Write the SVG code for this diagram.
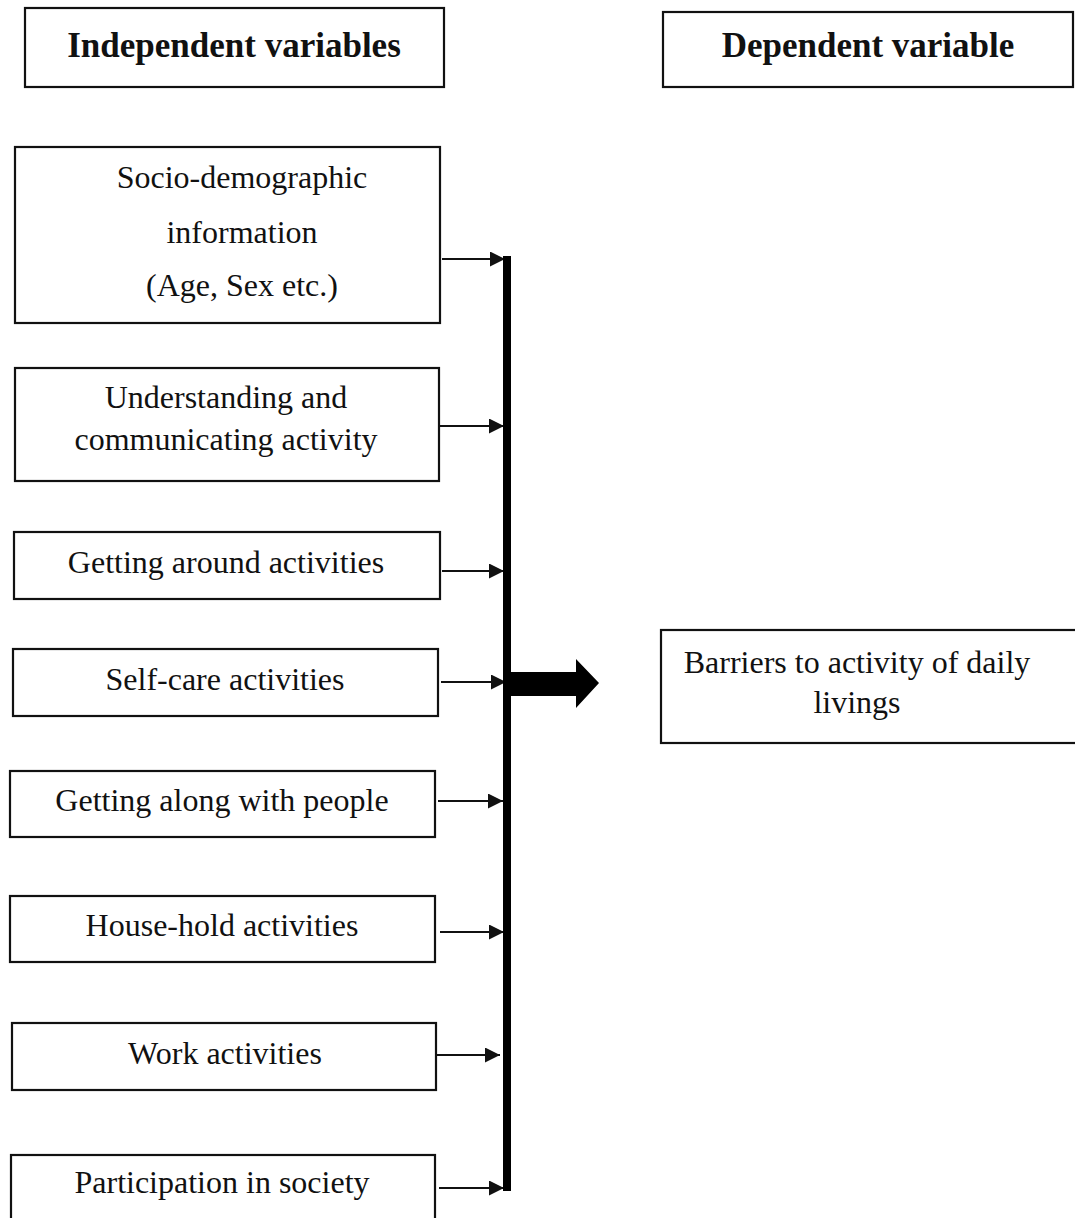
<svg xmlns="http://www.w3.org/2000/svg" width="1075" height="1218" viewBox="0 0 1075 1218">
<defs>
<style>
.box{fill:#fff;stroke:#111;stroke-width:2.2}
.t{font-family:"Liberation Serif","Times New Roman",serif;font-size:32px;fill:#111;text-anchor:middle}
.h{font-family:"Liberation Serif","Times New Roman",serif;font-size:35px;font-weight:bold;fill:#111;text-anchor:middle}
.c{stroke:#111;stroke-width:2.2;fill:none}
</style>
<marker id="ah" viewBox="0 0 15 15" refX="15" refY="7.5" markerWidth="15" markerHeight="15" markerUnits="userSpaceOnUse" orient="auto">
<path d="M0,0 L15,7.5 L0,15 Z" fill="#111"/>
</marker>
</defs>
<rect width="1075" height="1218" fill="#fff"/>
<g id="hdr-independent"><rect class="box" x="25" y="8" width="419" height="79"/><text class="h" x="234" y="57">Independent variables</text></g>
<g id="hdr-dependent"><rect class="box" x="663" y="12" width="410" height="75"/><text class="h" x="868" y="57">Dependent variable</text></g>
<g id="n-socio"><rect class="box" x="15" y="147" width="425" height="176"/>
<text class="t" x="242" y="188">Socio-demographic</text>
<text class="t" x="242" y="243">information</text>
<text class="t" x="242" y="296">(Age, Sex etc.)</text></g>
<g id="n-understanding"><rect class="box" x="15" y="368" width="424" height="113"/>
<text class="t" x="226" y="408">Understanding and</text>
<text class="t" x="226" y="450">communicating activity</text></g>
<g id="n-around"><rect class="box" x="14" y="532" width="426" height="67"/><text class="t" x="226" y="573">Getting around activities</text></g>
<g id="n-selfcare"><rect class="box" x="13" y="649" width="425" height="67"/><text class="t" x="225" y="690">Self-care activities</text></g>
<g id="n-along"><rect class="box" x="10" y="771" width="425" height="66"/><text class="t" x="222" y="811">Getting along with people</text></g>
<g id="n-household"><rect class="box" x="10" y="896" width="425" height="66"/><text class="t" x="222" y="936">House-hold activities</text></g>
<g id="n-work"><rect class="box" x="12" y="1023" width="424" height="67"/><text class="t" x="225" y="1064">Work activities</text></g>
<g id="n-participation"><rect class="box" x="11" y="1155" width="424" height="75"/><text class="t" x="222" y="1193">Participation in society</text></g>
<g id="n-barriers"><rect class="box" x="661" y="630" width="420" height="113"/>
<text class="t" x="857" y="673">Barriers to activity of daily</text>
<text class="t" x="857" y="713">livings</text></g>
<g id="connectors">
<line class="c" x1="442" y1="259" x2="505" y2="259" marker-end="url(#ah)"/>
<line class="c" x1="440" y1="426" x2="504" y2="426" marker-end="url(#ah)"/>
<line class="c" x1="442" y1="571" x2="504" y2="571" marker-end="url(#ah)"/>
<line class="c" x1="441" y1="682" x2="506" y2="682" marker-end="url(#ah)"/>
<line class="c" x1="438" y1="801" x2="503" y2="801" marker-end="url(#ah)"/>
<line class="c" x1="440" y1="932" x2="504" y2="932" marker-end="url(#ah)"/>
<line class="c" x1="437" y1="1055" x2="500" y2="1055" marker-end="url(#ah)"/>
<line class="c" x1="439" y1="1188" x2="504" y2="1188" marker-end="url(#ah)"/>
<rect x="503" y="256" width="8" height="935" fill="#000"/>
<polygon points="510,672 576,672 576,659 599,683 576,708 576,696 510,696" fill="#000"/>
</g>
</svg>
